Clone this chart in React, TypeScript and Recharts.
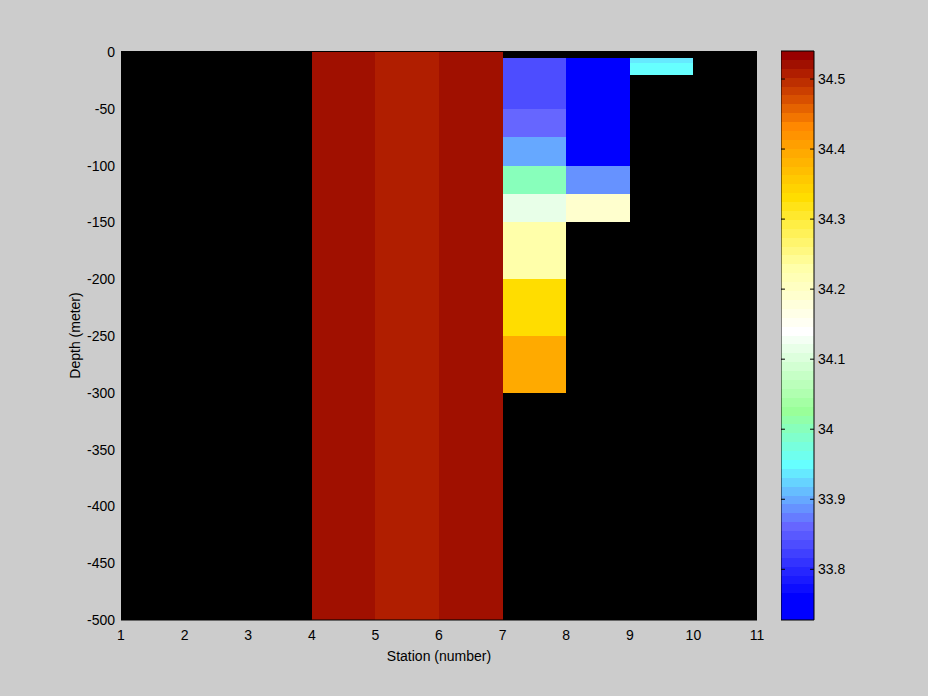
import { ComposedChart, XAxis, YAxis, ReferenceArea, ReferenceLine, Label } from "recharts";

const stationTicks = [1, 2, 3, 4, 5, 6, 7, 8, 9, 10, 11];
const depthTicks = [0, -50, -100, -150, -200, -250, -300, -350, -400, -450, -500];
const salinityTicks = [33.8, 33.9, 34, 34.1, 34.2, 34.3, 34.4, 34.5];

// one entry per measured cell: left station edge, top depth, bottom depth, salinity
const cellStation = [4, 5, 6, 7, 7, 7, 7, 7, 7, 7, 7, 8, 8, 8, 9, 9];
const cellTop = [0, 0, 0, -5, -50, -75, -100, -125, -150, -200, -250, -5, -100, -125, -5, -10];
const cellBottom = [-500, -500, -500, -50, -75, -100, -125, -150, -200, -250, -300, -100, -125, -150, -10, -20];
const cellSalinity = [
    34.521, 34.508, 34.521,
    33.836, 33.861, 33.899, 34.0, 34.115, 34.229, 34.331, 34.394,
    33.747, 33.886, 34.191,
    33.937, 33.95,
];

const SAL_MIN = 33.7276;
const SAL_MAX = 34.54;
const LEVELS = 64;

// colormap anchors: [level, colour]
const cmapStops: [number, string][] = [
    [0, "#0000ff"],
    [2, "#0000ff"],
    [10, "#6666ff"],
    [17, "#66ffff"],
    [23, "#99ff99"],
    [32, "#ffffff"],
    [39, "#ffffaa"],
    [44, "#ffee44"],
    [47, "#ffdd00"],
    [52, "#ffaa00"],
    [55, "#ff8800"],
    [58, "#d85000"],
    [61, "#b01e00"],
    [62, "#a01000"],
    [63, "#990000"],
];

const FONT = "Liberation Sans";
const tickStyle = { fontSize: 14, fill: "#000", fontFamily: FONT };

const hex = (s: string) => [1, 3, 5].map((i) => parseInt(s.slice(i, i + 2), 16));

const levelColor = (level: number) => {
    for (let k = 1; k < cmapStops.length; k++) {
        const [l0, c0] = cmapStops[k - 1];
        const [l1, c1] = cmapStops[k];
        if (level <= l1) {
            const f = l1 === l0 ? 0 : (level - l0) / (l1 - l0);
            const a = hex(c0);
            const b = hex(c1);
            const rgb = a.map((v, i) => Math.round(v + (b[i] - v) * f));
            return `rgb(${rgb.join(",")})`;
        }
    }
    return cmapStops[cmapStops.length - 1][1];
};

const step = (SAL_MAX - SAL_MIN) / LEVELS;

const salinityColor = (v: number) => {
    const lvl = Math.min(LEVELS - 1, Math.max(0, Math.floor((v - SAL_MIN) / step)));
    return levelColor(lvl);
};

const levels = Array.from({ length: LEVELS }, (_, i) => i);

export default function App() {
    return (
        <div style={{ position: "absolute", left: 0, top: 0, width: 928, height: 696, background: "#cccccc" }}>
            <div style={{ position: "absolute", left: 0, top: 0 }}>
                <ComposedChart width={928} height={696} margin={{ top: 51, right: 171, bottom: 30, left: 0 }} data={[]}>
                    <XAxis
                        type="number"
                        dataKey="x"
                        domain={[1, 11]}
                        ticks={stationTicks}
                        interval={0}
                        allowDataOverflow
                        height={46}
                        tickLine={false}
                        tickSize={6}
                        tickMargin={4}
                        axisLine={{ stroke: "#000" }}
                        tick={tickStyle}
                    >
                        <Label value="Station (number)" position="insideBottom" offset={5} fill="#000" fontSize={14} fontFamily={FONT} />
                    </XAxis>
                    <YAxis
                        type="number"
                        dataKey="y"
                        domain={[-500, 1]}
                        ticks={depthTicks}
                        interval={0}
                        allowDataOverflow
                        width={121}
                        tickLine={false}
                        tickSize={6}
                        tickMargin={0}
                        axisLine={false}
                        tick={tickStyle}
                    >
                        <Label
                            content={({ viewBox }: any) => {
                                const cx = viewBox.x + 75;
                                const cy = viewBox.y + viewBox.height / 2;
                                return (
                                    <text
                                        x={cx}
                                        y={cy}
                                        transform={`rotate(-90 ${cx} ${cy})`}
                                        textAnchor="middle"
                                        dominantBaseline="central"
                                        fill="#000"
                                        fontSize={14}
                                        fontFamily={FONT}
                                    >
                                        Depth (meter)
                                    </text>
                                );
                            }}
                        />
                    </YAxis>
                    <ReferenceArea x1={1} x2={11} y1={-500} y2={1} fill="#000000" fillOpacity={1} stroke="none" />
                    {cellSalinity.map((s, i) => (
                        <ReferenceArea
                            key={`cell-${i}`}
                            x1={cellStation[i]}
                            x2={cellStation[i] + 1}
                            y1={cellBottom[i]}
                            y2={cellTop[i]}
                            fill={salinityColor(s)}
                            fillOpacity={1}
                            stroke="none"
                            shapeRendering="crispEdges"
                        />
                    ))}
                </ComposedChart>
            </div>
            <div style={{ position: "absolute", left: 781, top: 0 }}>
                <ComposedChart width={93} height={696} margin={{ top: 51, right: 0, bottom: 76, left: 0 }} data={[]}>
                    <XAxis type="number" dataKey="x" domain={[0, 1]} hide allowDataOverflow />
                    <YAxis
                        type="number"
                        dataKey="y"
                        orientation="right"
                        domain={[SAL_MIN, SAL_MAX]}
                        ticks={salinityTicks}
                        interval={0}
                        allowDataOverflow
                        width={60}
                        tickLine={false}
                        tickSize={4}
                        tickMargin={0}
                        axisLine={false}
                        tick={tickStyle}
                    />
                    {levels.map((i) => (
                        <ReferenceArea
                            key={`lvl-${i}`}
                            x1={0}
                            x2={1}
                            y1={SAL_MIN + i * step}
                            y2={SAL_MIN + (i + 1) * step}
                            fill={levelColor(i)}
                            fillOpacity={1}
                            stroke="none"
                            shapeRendering="crispEdges"
                        />
                    ))}
                    <ReferenceArea x1={0} x2={1} y1={SAL_MIN} y2={SAL_MAX} fill="none" stroke="#000" strokeWidth={1} />
                    {salinityTicks.map((t) => (
                        <ReferenceLine key={`tl-${t}`} segment={[{ x: 0, y: t }, { x: 0.12, y: t }]} stroke="#000" />
                    ))}
                    {salinityTicks.map((t) => (
                        <ReferenceLine key={`tr-${t}`} segment={[{ x: 0.88, y: t }, { x: 1, y: t }]} stroke="#000" />
                    ))}
                </ComposedChart>
            </div>
        </div>
    );
}
